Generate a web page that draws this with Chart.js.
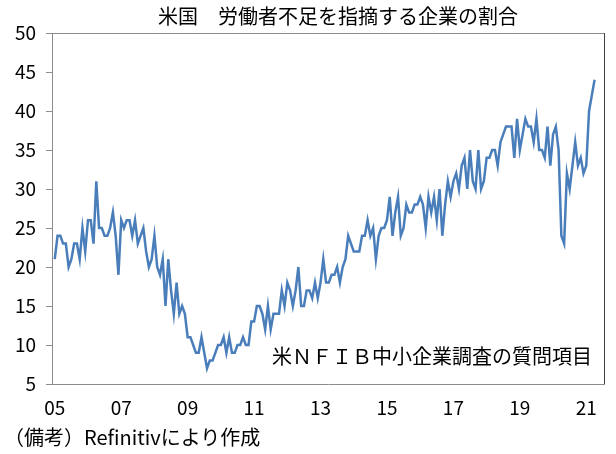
<!DOCTYPE html>
<html><head><meta charset="utf-8">
<script src="https://cdn.jsdelivr.net/npm/chart.js@4/dist/chart.umd.min.js"></script>
<style>
html,body{margin:0;padding:0;background:#fff;}
#wrap{position:relative;width:616px;height:454px;overflow:hidden;font-family:"Noto Sans CJK JP",sans-serif;color:#000;}
canvas{position:absolute;left:0;top:0;}
.t{position:absolute;white-space:nowrap;font-size:20px;line-height:20px;}
</style></head><body>
<div id="wrap">
<canvas id="c" width="616" height="454"></canvas>
<div class="t" id="title" style="left:0;width:676px;text-align:center;top:6px;">米国　労働者不足を指摘する企業の割合</div>
<div class="t" id="note" style="right:24px;top:346px;">米ＮＦＩＢ中小企業調査の質問項目</div>
<div class="t" id="src" style="left:4px;top:427px;">（備考）Refinitivにより作成</div>
</div>
<script>
// Monthly share of firms reporting job openings hard to fill (%), Jan 2005 - Apr 2021
const startYear = 2005;
const v2005 = [21,24,24,23,23,20,21,23,23,21,25,22];
const v2006 = [26,26,23,31,25,25,24,24,25,27,24,19];
const v2007 = [26,25,26,26,24,26,23,24,25,22,20,21];
const v2008 = [24,20,19,21,15,21,17,14,18,14,15,14];
const v2009 = [11,11,10,9,9,11,9,7,8,8,9,10];
const v2010 = [10,11,9,11,9,9,10,10,11,10,10,13];
const v2011 = [13,15,15,14,12,15,12,14,14,14,17,15];
const v2012 = [18,17,15,17,20,15,15,17,17,16,18,16];
const v2013 = [18,21,18,18,19,19,20,18,20,21,24,23];
const v2014 = [22,22,22,24,24,26,24,25,21,24,25,25];
const v2015 = [26,29,24,27,29,24,25,28,27,27,28,28];
const v2016 = [29,28,25,29,27,29,26,30,24,28,31,29];
const v2017 = [31,32,30,33,34,30,35,31,30,35,30,31];
const v2018 = [34,34,35,35,33,36,37,38,38,38,34,39];
const v2019 = [35,37,39,38,38,36,39,35,35,34,38,33];
const v2020 = [37,38,35,24,23,32,30,33,36,33,34,32];
const v2021 = [33,40,42,44];
const values = [].concat(v2005,v2006,v2007,v2008,v2009,v2010,v2011,v2012,v2013,v2014,v2015,v2016,v2017,v2018,v2019,v2020,v2021);
const tickLabels = ['05','07','09','11','13','15','17','19','21'];
const yMin = 5, yMax = 50, yStep = 5;

const tickIndex = l => (2000 + parseInt(l, 10) - startYear) * 12;

const frame = {
  id: 'frame',
  afterDatasetsDraw(chart) {
    const a = chart.chartArea, ctx = chart.ctx;
    ctx.save();
    ctx.lineWidth = 1;
    ctx.strokeStyle = '#8c8c8c';
    ctx.beginPath();
    ctx.moveTo(a.left, Math.round(a.top) + 0.5);
    ctx.lineTo(a.right, Math.round(a.top) + 0.5);
    ctx.stroke();
    ctx.strokeStyle = '#404040';
    ctx.beginPath();
    ctx.moveTo(Math.round(a.right) + 0.5, a.top);
    ctx.lineTo(Math.round(a.right) + 0.5, a.bottom);
    ctx.stroke();
    ctx.restore();
  }
};

new Chart(document.getElementById('c'), {
  type: 'line',
  data: {
    datasets: [{
      data: values.map((v, i) => ({x: i, y: v})),
      borderColor: '#4a7ebb',
      borderWidth: 2.5,
      pointRadius: 0,
      tension: 0,
      fill: false
    }]
  },
  options: {
    responsive: false,
    devicePixelRatio: 1,
    animation: false,
    layout: {padding: {top: 33, right: 12, bottom: 30, left: 0}},
    plugins: {legend: {display: false}, tooltip: {enabled: false}, title: {display: false}},
    scales: {
      x: {
        type: 'linear',
        min: -1,
        max: 198.4,
        afterBuildTicks: axis => { axis.ticks = tickLabels.map(l => ({value: tickIndex(l)})); },
        afterFit: s => { s.height = 40; },
        grid: {display: false},
        border: {display: true, color: '#8c8c8c', width: 1},
        ticks: {
          autoSkip: false, maxRotation: 0, padding: 4, color: '#000',
          font: {family: '"Noto Sans CJK JP", sans-serif', size: 19},
          callback: v => { const i = tickLabels.findIndex(l => tickIndex(l) === v); return i >= 0 ? tickLabels[i] : ''; }
        }
      },
      y: {
        min: yMin, max: yMax,
        afterFit: s => { s.width = 52; },
        grid: {display: true, drawOnChartArea: false, drawTicks: true, tickLength: 6, color: '#8c8c8c'},
        border: {display: true, color: '#8c8c8c', width: 1},
        ticks: {stepSize: yStep, padding: 10, color: '#000', font: {family: '"Noto Sans CJK JP", sans-serif', size: 19}}
      }
    }
  },
  plugins: [frame]
});
</script>
</body></html>
